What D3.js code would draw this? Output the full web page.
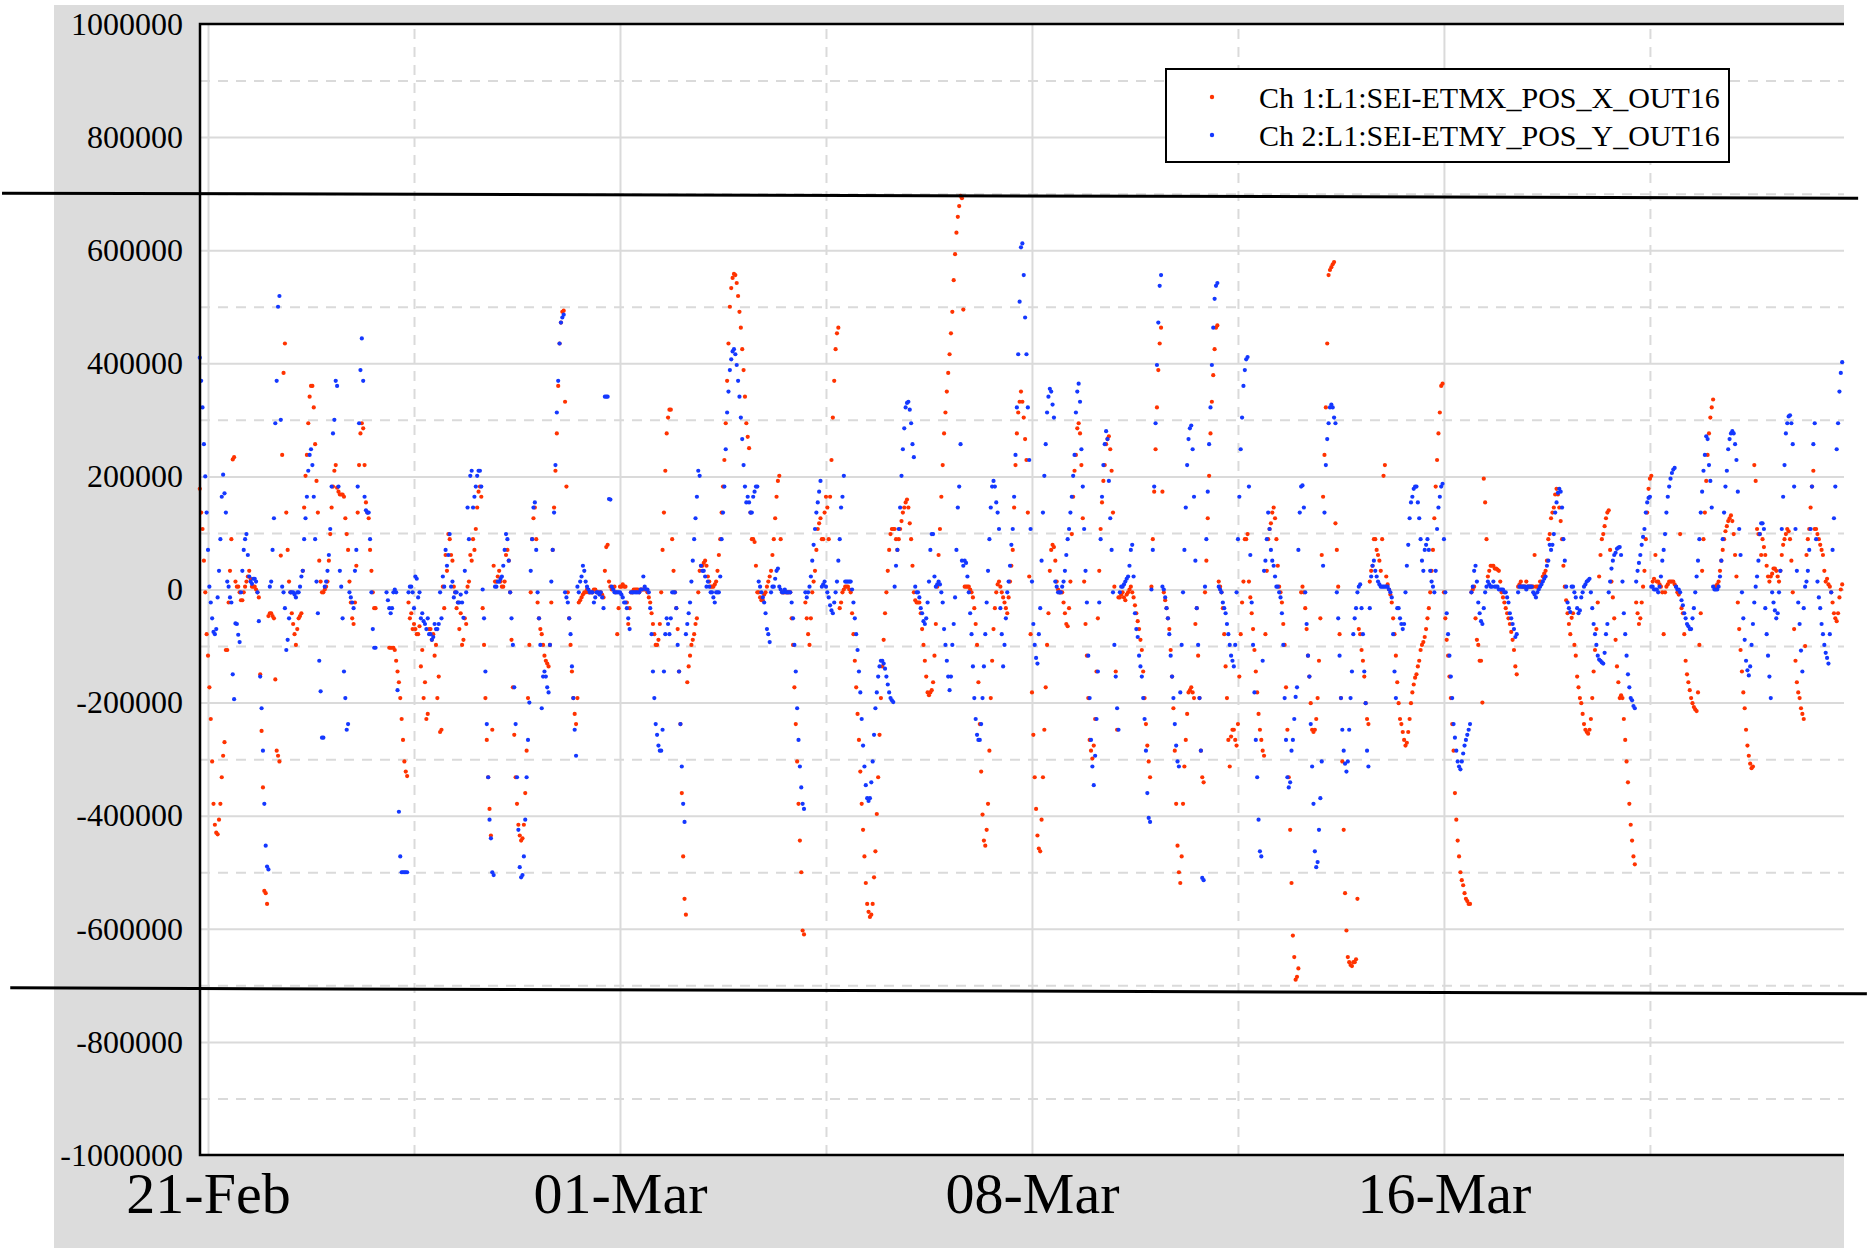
<!DOCTYPE html>
<html lang="en">
<head>
<meta charset="UTF-8">
<title>SEI ETM position OUT16</title>
<script src="https://d3js.org/d3.v7.min.js"></script>
<style>
  body { margin: 0; background: #fff; }
  .lbl { font-family: "Liberation Serif", "Times New Roman", serif; fill: #000; }
</style>
</head>
<body>
<svg width="1871" height="1248"></svg>
<script>
// readings every 0.05 day from -0.15 day (21-Feb tick = 0), plus a second set read
// half a step later; values in thousands of counts, null = no data
const tStart = -0.15;
const tStep = 0.05;

// Ch 1 : L1:SEI-ETMX_POS_X_OUT16 (red)
const ch1 = [178, 107, -5,
  -117, -229, -379, -430, -407, -332, -270, -107, 33, 230, 14, 5, -19, -5, 14, 33, 5, 5, -5, -150,
  -350, -537, -47, -42, -51, -285, -304, 238, 435, 70, -5, -61, -98, -51, -42, 145, 238, 341, 360, 257,
  136, 14, -5, 5, 51, 145, 210, 180, 168, 168, 126, 70, -23, -61, 42, 220, 294, 220, 136, 70,
  -5, -33, null, null, null, null, -103, -103, -107, -145, -192, -266, -322, -23, -42, -61, -79, -65, -107, -164,
  -220, -70, -79, -98, -154, -248, -33, 33, 89, 51, -5, -23, -42, -89, -61, 14, 51, 70, 145, 182,
  -33, -192, -332, -435, 42, 14, 33, 5, 14, 70, -5, -173, -332, -416, -444, -416, -285, -98, 89, 145,
  -23, -70, -98, -126, -136, -23, 145, 276, 435, 491, 332, -5, -98, -192, -238, -23, -14, -5, 0, -5,
  -5, 0, -5, -5, -14, 75, 14, 0, 5, -79, 5, 9, 5, -61, -5, 0, 0, -5, 0, 0,
  -5, -23, -61, -98, -89, -5, 136, 276, 318, 89, -5, -70, -238, -472, -575, -136, -98, -79, -51, 33,
  42, 51, 23, 5, 5, 14, 61, 136, 229, 369, 500, 551, 556, 519, 463, 388, 294, 250, 89, 84,
  -5, -14, -19, -5, 14, 33, 89, 164, 201, -5, -5, -5, -5, -98, -238, -379, -500, -610, -51, -98,
  -5, 33, 107, 126, 89, 164, 89, 229, 369, 453, -33, -5, 5, 5, -5, -79, -173, -266, -379, -472,
  -556, -579, -556, -463, -332, -192, -89, -5, 70, 107, 107, 70, 107, 136, 154, 145, 89, -5, -23, -23,
  -70, -126, -182, -182, -164, -61, 61, 164, 276, 350, 416, 491, 593, 659, 696, 495, 5, 5, -5, -33,
  -98, -238, -398, -453, -379, -192, -70, -5, 14, -5, -23, -42, 14, 70, 220, 313, 350, 304, 229, 23,
  -182, -332, -435, -463, -332, -173, -42, 70, 75, 14, -5, -5, -42, -65, 14, 164, 238, 294, 220, 14,
  -117, -266, -299, -229, -51, 107, 192, 257, 271, 210, 5, -248, -14, -5, -19, -5, 5, -14, -42, -70,
  -107, -192, -276, -332, 89, 248, 388, 463, -5, -33, -70, -154, -285, -453, -519, -379, -266, -182, -173, -192,
  -33, -192, -332, -5, 126, 276, 379, 463, 14, -5, -79, -192, -313, -248, -266, -238, -79, 14, 89, 14,
  -42, -107, -182, -248, -285, -79, 89, 117, 145, 89, 5, -23, -98, -248, -425, -612, -690, -670, -5, -5,
  -70, -154, -248, -248, -192, -51, 164, 322, 556, 570, 579, 70, -79, -304, -537, -650, -664, -659, -654, -70,
  -107, -154, -229, 14, 42, 89, 61, 33, 201, 23, 0, -23, -79, -164, -229, -252, -276, -252, -201, -168,
  -150, -126, -98, -84, -51, -5, 70, 182, 276, 360, -5, -89, -154, -238, -360, -444, -500, -523, -547, -556,
  -5, 5, -89, -126, -200, 154, 23, 42, 42, 37, 33, -5, -23, -42, -61, -89, -136, 5, 14, 5,
  14, 5, 5, 61, 5, 14, 23, 33, 89, 126, 145, 178, 145, 89, 5, -42, -79, -42, -117, -173,
  -201, -238, -252, -248, -192, -107, -23, 61, 98, 126, 140, 14, -51, -136, -192, -192, -266, -341, -416, -472,
  -23, -61, -23, 33, 136, 196, 14, 61, 14, 5, -79, 5, 14, 14, 9, -5, 98, -42, -126, -164,
  -192, -208, -215, -98, 33, 136, 238, 304, 336, 5, 14, 51, 89, 112, 126, 121, 61, -23, -107, -182,
  -248, -294, -316, 220, 107, 98, 89, 61, 23, 23, 37, 33, 14, 61, 89, 107, 89, -5, -126, -182,
  -210, -229, 61, 107, 182, 107, 98, 79, 61, 14, 9, -5, -42, -56, -14, 9];

const ch1Half = [136, 51, -79,
  -173, -304, -416, -433, -379, -294, -107, -23, 89, 234, 5, -5, -19, 5, 23, 19, 5, 0, -14, -250,
  -533, -556, -42, -47, -159, -294, 60, 383, 136, 14, -42, -79, -70, -47, 33, 201, 294, 360, 322, 192,
  51, -5, 0, 14, 98, 182, 220, 173, 168, 164, 98, 14, -51, -23, 136, 276, 285, 154, 126, 33,
  -33, null, null, null, null, null, -103, -103, -126, -164, -229, -304, -330, -51, -70, -70, -79, -136, -192, -229,
  -70, -89, -117, -192, -252, 5, 61, 98, 61, 5, -33, -70, -98, -51, 5, 61, 89, 107, 173, 164,
  -98, -266, -388, -248, 14, 23, 14, 5, 61, 51, -89, -257, -379, -435, -440, -360, -192, -5, 126, 89,
  -51, -79, -117, -131, -98, 70, 210, 360, 472, 493, 182, -51, -145, -220, -192, -19, -9, -5, -5, -5,
  0, -5, -5, -9, 33, 79, 5, 0, -5, -33, 5, 5, -23, -33, -5, 0, 0, 0, 0, 0,
  -14, -42, -79, -98, -61, 70, 210, 304, 318, 33, -33, -145, -360, -547, -164, -117, -89, -61, -5, 42,
  47, 42, 14, 5, 9, 33, 89, 182, 294, 435, 533, 558, 542, 491, 425, 341, 270, 136, 89, 42,
  -5, -19, -9, 5, 23, 61, 126, 192, 89, -5, -5, -5, -51, -173, -304, -444, -603, -23, -79, -51,
  14, 70, 117, 89, 136, 145, 164, 304, 425, 463, -23, 0, 5, 0, -42, -126, -220, -322, -425, -519,
  -570, -575, -509, -397, -257, -136, -42, 33, 98, 107, 89, 89, 121, 145, 159, 117, 42, -19, -23, -42,
  -98, -154, -187, -178, -117, 5, 107, 220, 313, 383, 453, 547, 631, 678, 692, 5, 5, 0, -14, -61,
  -164, -322, -444, -425, -285, -126, -33, 9, 5, -14, -33, -14, 42, 145, 276, 332, 332, 266, 136, -79,
  -257, -388, -458, -407, -248, -98, 33, 79, 51, 0, -5, -23, -61, -33, 98, 210, 285, 276, 126, -61,
  -192, -285, -276, -145, 33, 154, 220, 266, 248, 136, -145, -14, -9, -14, -9, 0, -5, -28, -56, -89,
  -145, -238, -304, 5, 173, 322, 435, 173, -19, -51, -107, -210, -379, -500, -472, -313, -220, -178, -182, -61,
  -117, -285, -341, 51, 201, 332, 425, 467, 5, -33, -136, -266, -260, -248, -276, -154, -23, 89, 98, -14,
  -70, -145, -220, -266, -294, 33, 107, 136, 126, 42, -5, -61, -173, -332, -519, -650, -685, null, 5, -33,
  -117, -201, -252, -229, -126, 61, 238, 435, 565, 575, 117, 5, -192, -425, -603, -659, -666, -659, -547, -79,
  -126, -201, -238, 33, 89, 70, 51, 89, 220, 9, -9, -51, -117, -201, -238, -266, -271, -229, -182, -156,
  -136, -107, -93, -70, -33, 33, 126, 229, 313, 364, -51, -117, -192, -285, -407, -472, -514, -537, -551, -556,
  0, -51, -98, -126, 196, 89, 33, 42, 37, 35, 14, -14, -33, -51, -75, -107, -150, 9, 5, 5,
  5, 5, 5, 5, 5, 14, 28, 51, 98, 136, 168, 168, 121, 42, -19, -61, -50, -98, -154, -192,
  -220, -248, -255, -229, -145, -70, 23, 89, 112, 136, 70, -14, -89, -164, -187, -229, -304, -379, -444, -486,
  -42, -51, 5, 89, 178, 201, 19, 14, 9, -5, -5, 9, 14, 14, 5, -9, -33, -79, -150, -178,
  -201, -212, -182, -42, 89, 192, 276, 322, 5, 9, 33, 70, 103, 121, 131, 98, 23, -70, -145, -210,
  -276, -308, -313, 192, 98, 61, 75, 42, 14, 28, 37, 23, 33, 79, 98, 103, 51, -70, -164, -192,
  -220, -100, 89, 145, 210, 107, 89, 70, 33, 19, 5, -23, -51, -42, 0];

// Ch 2 : L1:SEI-ETMY_POS_Y_OUT16 (blue)
const ch2 = [410, 322, 200,
  70, -23, -75, -70, 33, 164, 170, 14, -14, -150, -60, -80, -5, 70, 98, 23, 10, 19, -5, -154,
  -285, -453, -495, 14, 126, 369, 519, 5, -33, -89, -5, -5, -14, -5, 23, 89, 164, 238, 220, 89,
  -42, -180, -262, 14, 61, 182, 300, 360, 33, -51, -192, -238, -14, -33, 70, 294, 444, 164, 136, 89,
  -70, -103, null, null, null, -5, -33, -33, 0, -178, -472, -500, -500, -5, 5, -33, 19, -5, -42, -61,
  -51, -79, -84, -70, -61, -51, 5, 42, 98, 14, -5, -23, -9, -50, -5, 89, 210, 164, 201, 210,
  0, -145, -332, -440, -505, 5, 14, 23, 70, 89, -5, -98, -238, -425, -509, -472, -332, -200, 89, 154,
  -5, -98, -154, -154, -182, 14, 136, 313, 435, 481, -5, -23, -79, -192, -294, -5, 23, 33, 5, -5,
  -5, -14, -5, -5, -33, 341, 160, 5, -5, -5, -5, -14, -23, -51, -5, -5, -5, -5, 0, 5,
  0, -33, -145, -238, -276, -285, -145, -51, -79, -5, -5, -98, -238, -379, -79, -42, 14, 89, 164, 201,
  33, 23, 14, -5, -14, -5, -5, 89, 182, 313, 388, 421, 416, 369, 304, 220, 154, 154, 136, 173,
  182, 5, -14, -42, -79, -5, 5, 33, 5, -5, 0, -5, -5, -51, -145, -266, -350, -388, -14, 5,
  51, 107, 154, 192, 9, 5, -14, -37, -23, 14, 89, 164, 14, 14, 14, -23, -79, -145, -229, -313,
  -369, -369, -304, -210, -154, -126, -131, -154, -182, -196, 5, 70, 145, 248, 322, 332, 294, 234, -5, -14,
  -42, -61, -23, 70, 98, 5, 14, -5, -70, -126, -178, -98, -14, 145, 257, 42, 47, -5, -79, -192,
  -257, -266, -192, -79, 33, 145, 192, 154, 107, -79, -98, -5, 42, 107, 238, 416, 605, 556, 416, 229,
  14, -98, -131, -33, 136, 257, 341, 350, 304, 5, -5, 5, 33, 89, 136, 201, 313, 364, 248, 107,
  -23, -192, -313, -294, -145, 89, 220, 280, 192, 70, -98, -210, -5, 5, 14, 23, 70, 23, -70, -117,
  -154, -229, -360, -411, 70, 294, 472, 556, 0, -33, -79, -154, -238, -304, -182, -5, 145, 266, 290, 164,
  -33, -192, -510, 5, 173, 322, 463, 537, 5, -5, -33, -61, -98, -126, -98, 89, 248, 360, 407, 182,
  -23, -182, -332, -463, -126, 51, 136, 70, 42, 5, -5, -42, -192, -332, -341, -266, -190, 70, 182, 145,
  -61, -154, -313, -463, -482, -369, 42, 220, 294, 327, 304, -5, -117, -248, -308, -304, -192, -79, -33, 5,
  -33, -145, -285, -33, 42, 33, 14, 5, 5, 5, 0, -14, -145, -33, -51, -70, -5, 79, 154, 178,
  182, 126, 51, 70, 89, 33, 5, 33, 145, 182, 89, -42, -117, -192, -262, -304, -318, -290, -266, -248,
  -5, 33, 14, -42, -61, -5, 14, 5, 14, 5, 0, 0, -5, -14, -42, -61, -84, -5, 5, 5,
  0, 5, 5, -9, -5, 5, 14, 23, 51, 70, 98, 154, 178, 145, 51, -23, -40, 5, -14, -42,
  -14, 5, 14, 19, -33, -79, -117, -126, -131, -79, -5, 37, 61, 72, 75, 14, -79, -150, -192, -206,
  14, 47, 79, 107, 154, 164, 5, 0, -5, 23, 70, 136, 182, 206, 215, 0, -5, -28, -51, -65,
  -70, -33, 23, 89, 173, 238, 266, 192, 5, 0, 5, 51, 136, 210, 266, 280, 257, 173, 61, -51,
  -126, -152, -98, -23, 23, 98, 117, -33, -117, -192, -23, -51, -5, 107, 220, 294, 308, 257, 107, -23,
  -108, -33, 14, 70, 182, 294, 14, -33, -79, -112, -131, -5, 126, 248, 350, 402];

const ch2Half = [369, 257, 136,
  5, -51, -79, -14, 89, 203, 136, 5, -23, -194, -61, -93, 33, 89, 61, 14, 19, 14, -56, -210,
  -379, -490, 5, 70, 294, 500, 300, -5, -107, -51, -5, -9, -5, 5, 33, 126, 210, 248, 164, 14,
  -126, -262, 5, 33, 107, 276, 369, 182, 5, -145, -248, -5, -23, 33, 182, 388, 369, 140, 136, -5,
  -103, null, null, null, null, -19, -42, -5, -5, -393, -500, -500, -500, 5, -5, 23, -14, -51, -56, -70,
  -79, -89, -61, -70, -5, 23, 70, 61, 5, -14, -5, -23, -23, 33, 145, 201, 145, 182, 210, 182,
  -51, -238, -407, -500, 5, 14, 19, 42, 98, 51, -51, -173, -332, -491, -505, -407, -266, 33, 145, 70,
  -51, -210, -145, -173, -98, 70, 220, 369, 472, 486, -14, -51, -136, -248, 5, 14, 42, 14, 0, -5,
  -23, -5, -9, -14, 341, 341, 159, 0, -5, -5, -9, -23, -33, -70, -5, -5, -5, 0, 23, 0,
  -5, -79, -192, -257, -285, -248, -79, -61, -51, -5, -33, -145, -313, -411, -61, -23, 51, 126, 210, 42,
  33, 5, 5, -5, -23, -5, 23, 136, 248, 350, 407, 425, 397, 341, 266, 182, 164, 136, 164, 182,
  14, -5, -23, -70, -93, 5, 19, 37, 0, -5, -5, -5, -23, -98, -210, -313, -379, -5, -5, 23,
  79, 136, 173, 5, 14, -5, -28, -42, -5, 51, 145, 201, 14, 14, 0, -51, -107, -182, -276, -346,
  -374, -341, -257, -182, -136, -126, -140, -168, -192, -199, 42, 107, 201, 285, 330, 318, 257, 5, -5, -33,
  -56, -51, 14, 98, 23, 9, 9, -23, -98, -154, -154, -61, 70, 182, 51, 51, 23, -42, -136, -229,
  -266, -238, -136, -23, 89, 182, 182, 136, -33, -136, -51, 14, 79, 164, 322, 509, 612, 481, 322, 107,
  -61, -121, -79, 51, 201, 313, 355, 327, 14, -5, -5, 14, 61, 107, 164, 238, 350, 332, 182, 33,
  -117, -266, -346, -229, -23, 164, 257, 266, 126, -5, -154, -248, 5, 9, 19, 42, 79, -42, -84, -136,
  -192, -285, -404, 0, 182, 397, 537, 5, -14, -51, -117, -192, -276, -313, -98, 70, 220, 285, 248, 51,
  -98, -285, -514, 89, 257, 397, 514, 542, 0, -23, -42, -79, -117, -136, -5, 164, 304, 388, 411, 61,
  -98, -266, -407, -472, 33, 89, 107, 51, 23, 5, -14, -98, -266, -350, -285, -229, -173, 136, 184, -5,
  -117, -238, -379, -491, -425, -304, 136, 266, 322, 322, 294, -51, -192, -285, -322, -248, -145, -51, -5, 9,
  -79, -201, -313, 23, 51, 23, 9, 5, 5, 5, -5, -79, -192, -33, -61, -61, 42, 126, 164, 182,
  154, 89, 33, 79, 70, 14, -5, 107, 164, 187, -5, -79, -154, -238, -285, -313, -304, -276, -257, -238,
  5, 42, -23, -56, -33, 5, 9, 5, 5, 5, 0, 0, -5, -23, -51, -70, -79, 5, 5, 5,
  5, 5, -5, -14, 0, 9, 19, 42, 79, 79, 136, 171, 173, 89, 5, -33, 5, -5, -33, -37,
  -5, 9, 16, -5, -61, -98, -124, -129, -112, -61, 14, 51, 65, 74, 61, -42, -117, -173, -196, -210,
  33, 61, 93, 136, 162, 5, 0, 0, 5, 51, 98, 164, 196, 212, 5, 0, -19, -42, -61, -70,
  -51, -5, 51, 136, 210, 271, 220, 145, 0, 0, 23, 89, 182, 248, 276, 276, 229, 107, -5, -89,
  -143, -136, -61, 5, 51, 117, 107, -79, -154, -5, -37, -42, 33, 164, 276, 306, 294, 182, 33, -61,
  -145, 5, 33, 107, 257, 89, -14, -61, -98, -121, -79, 70, 182, 294, 383];

const seriesNames = ["Ch 1:L1:SEI-ETMX_POS_X_OUT16", "Ch 2:L1:SEI-ETMY_POS_Y_OUT16"];
const seriesColors = ["#ff3300", "#1438ff"];

// x ticks in days from the first tick
const xTicks = [0, 7.5, 15, 22.5];
const xTickLabels = ["21-Feb", "01-Mar", "08-Mar", "16-Mar"];
const xMinorTicks = [3.75, 11.25, 18.75, 26.25];

const yTicks = [1000000, 800000, 600000, 400000, 200000, 0, -200000, -400000, -600000, -800000, -1000000];
const yTickLabels = ["1000000", "800000", "600000", "400000", "200000", "0", "-200000", "-400000", "-600000", "-800000", "-1000000"];
const yMinorTicks = [900000, 700000, 500000, 300000, 100000, -100000, -300000, -500000, -700000, -900000];

// the two hand drawn limit lines (value at left end, value at right end, day span)
const limitLines = [
  {t0: -3.75, t1: 30.04, v0: 700900, v1: 692000},
  {t0: -3.6, t1: 30.2, v0: -704400, v1: -715000}
];

const svg = d3.select("svg");
const plotL = 200, plotR = 1844, plotT = 24, plotB = 1155;

const x = d3.scaleLinear().domain([-0.146, 29.783]).range([plotL, plotR]);
const y = d3.scaleLinear().domain([-1000000, 1000000]).range([plotB, plotT]);

// gray background and white plot area
svg.append("rect").attr("x", 54).attr("y", 5).attr("width", plotR - 54).attr("height", 1248 - 5).attr("fill", "#dcdcdc");
svg.append("rect").attr("x", plotL).attr("y", plotT).attr("width", plotR - plotL).attr("height", plotB - plotT).attr("fill", "#fff");

function grid(g, dashed) {
  g.select(".domain").remove();
  g.selectAll("line").attr("stroke", "#dadada").attr("stroke-width", 2)
    .attr("stroke-dasharray", dashed ? "10,8" : null);
}

svg.append("g").attr("transform", `translate(${plotL},0)`)
  .call(d3.axisLeft(y).tickValues(yMinorTicks).tickSize(-(plotR - plotL)).tickFormat(""))
  .call(g => grid(g, true));
svg.append("g").attr("transform", `translate(${plotL},0)`)
  .call(d3.axisLeft(y).tickValues(yTicks.slice(1, -1)).tickSize(-(plotR - plotL)).tickFormat(""))
  .call(g => grid(g, false));
svg.append("g").attr("transform", `translate(0,${plotB})`)
  .call(d3.axisBottom(x).tickValues(xMinorTicks).tickSize(-(plotB - plotT)).tickFormat(""))
  .call(g => grid(g, true));
svg.append("g").attr("transform", `translate(0,${plotB})`)
  .call(d3.axisBottom(x).tickValues(xTicks).tickSize(-(plotB - plotT)).tickFormat(""))
  .call(g => grid(g, false));

// points: main readings and the half-step readings of each channel
function samples(vals, offset) {
  return vals.map((v, i) => ({t: tStart + offset + i * tStep, v: v})).filter(d => d.v !== null);
}

[[ch1, ch1Half], [ch2, ch2Half]].forEach(function (pair, k) {
  const pts = samples(pair[0], 0).concat(samples(pair[1], tStep / 2));
  svg.append("g").selectAll("circle")
    .data(pts)
    .enter()
    .append("circle")
    .attr("cx", d => x(d.t))
    .attr("cy", d => y(d.v * 1000))
    .attr("r", 2.1)
    .attr("fill", seriesColors[k]);
});

// frame: left, top, bottom
svg.append("path")
  .attr("d", `M${plotR},${plotT}H${plotL}V${plotB}H${plotR}`)
  .attr("fill", "none").attr("stroke", "#000").attr("stroke-width", 2.5);

// tick labels
svg.append("g").attr("transform", `translate(${plotL},0)`)
  .call(d3.axisLeft(y).tickValues(yTicks).tickSize(0).tickPadding(17).tickFormat((d, i) => yTickLabels[i]))
  .call(g => g.select(".domain").remove())
  .call(g => g.selectAll("text").attr("class", "lbl").attr("font-size", 32));

svg.append("g").attr("transform", `translate(0,${plotB})`)
  .call(d3.axisBottom(x).tickValues(xTicks).tickSize(0).tickPadding(17).tickFormat((d, i) => xTickLabels[i]))
  .call(g => g.select(".domain").remove())
  .call(g => g.selectAll("text").attr("class", "lbl").attr("font-size", 58));

// legend
const legend = svg.append("g").attr("transform", "translate(1166,69)");
legend.append("rect").attr("width", 563).attr("height", 93)
  .attr("fill", "#fff").attr("stroke", "#000").attr("stroke-width", 2);
seriesNames.forEach(function (name, i) {
  legend.append("circle").attr("cx", 46).attr("cy", 28 + i * 38).attr("r", 2.2).attr("fill", seriesColors[i]);
  legend.append("text").attr("class", "lbl").attr("x", 93).attr("y", 28 + i * 38)
    .attr("dy", "0.35em").attr("font-size", 30).text(name);
});

// limit lines
svg.selectAll(".limit")
  .data(limitLines)
  .enter()
  .append("line")
  .attr("x1", d => x(d.t0)).attr("y1", d => y(d.v0))
  .attr("x2", d => x(d.t1)).attr("y2", d => y(d.v1))
  .attr("stroke", "#000").attr("stroke-width", 3);
</script>
</body>
</html>
